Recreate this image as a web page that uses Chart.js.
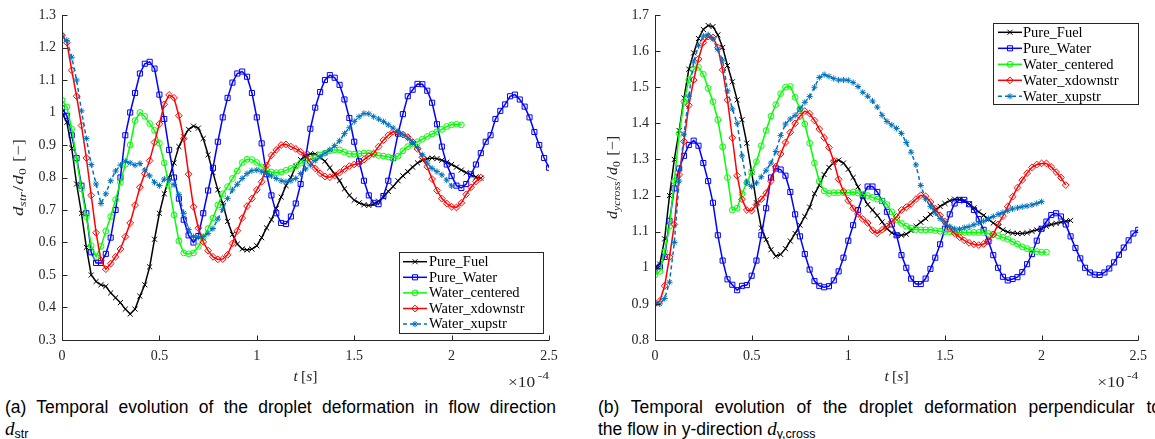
<!DOCTYPE html>
<html><head><meta charset="utf-8">
<script src="https://cdn.jsdelivr.net/npm/chart.js@4/dist/chart.umd.min.js"></script>
<style>
html,body{margin:0;padding:0;background:#fff;}
body{width:1155px;height:439px;overflow:hidden;position:relative;}
.cw{position:absolute;top:0;width:575px;height:390px;}
.cap{position:absolute;font-family:"Liberation Sans",Arial,sans-serif;font-size:17.5px;line-height:20px;color:#000;white-space:nowrap;}
.j{text-align:justify;text-align-last:justify;}
.mi{font-family:"Liberation Serif",serif;font-style:italic;font-size:19px;}
.cap sub{font-size:12.5px;vertical-align:-3px;line-height:0;}
</style></head><body>
<div class="cw" style="left:0"><canvas id="c1" width="575" height="390"></canvas></div>
<div class="cw" style="left:580px"><canvas id="c2" width="575" height="390"></canvas></div>
<div class="cap j" style="left:5px;top:397px;width:551px;">(a) Temporal evolution of the droplet deformation in flow direction</div>
<div class="cap" style="left:5px;top:419px;"><span class="mi">d</span><sub>str</sub></div>
<div class="cap j" style="left:598px;top:397px;width:563px;">(b) Temporal evolution of the droplet deformation perpendicular to</div>
<div class="cap" style="left:598px;top:419px;">the flow in y-direction <span class="mi">d</span><sub>y,cross</sub></div>
<script>
const time = [0,0.025,0.05,0.075,0.1,0.125,0.15,0.175,0.2,0.225,0.25,0.275,0.3,0.325,0.35,0.375,0.4,0.425,0.45,0.475,0.5,0.525,0.55,0.575,0.6,0.625,0.65,0.675,0.7,0.725,0.75,0.775,0.8,0.825,0.85,0.875,0.9,0.925,0.95,0.975,1,1.025,1.05,1.075,1.1,1.125,1.15,1.175,1.2,1.225,1.25,1.275,1.3,1.325,1.35,1.375,1.4,1.425,1.45,1.475,1.5,1.525,1.55,1.575,1.6,1.625,1.65,1.675,1.7,1.725,1.75,1.775,1.8,1.825,1.85,1.875,1.9,1.925,1.95,1.975,2,2.025,2.05,2.075,2.1,2.125,2.15,2.175,2.2,2.225,2.25,2.275,2.3,2.325,2.35,2.375,2.4,2.425,2.45,2.475,2.5];

const seriesNames = ['Pure_Fuel','Pure_Water','Water_centered','Water_xdownstr','Water_xupstr'];

// (a) d_str / d_0
const strFuel = [1.00,0.97,0.89,0.78,0.69,0.585,0.50,0.48,0.47,0.465,
0.445,0.43,0.415,0.395,0.38,0.395,0.435,0.47,0.525,0.61,
0.69,0.75,0.80,0.845,0.895,0.925,0.948,0.958,0.952,0.92,
0.87,0.815,0.762,0.72,0.665,0.625,0.595,0.58,0.577,0.58,
0.59,0.615,0.645,0.67,0.705,0.74,0.775,0.80,0.835,0.855,
0.866,0.873,0.872,0.862,0.85,0.83,0.81,0.79,0.765,0.745,
0.73,0.722,0.716,0.714,0.718,0.727,0.74,0.757,0.772,0.79,
0.805,0.818,0.832,0.845,0.853,0.858,0.86,0.858,0.853,0.847,
0.84,0.832,0.823,0.815,0.808,0.802,0.798];
const strWater = [1.013,0.99,0.93,0.86,0.775,0.69,0.57,0.537,0.537,0.565,
0.615,0.70,0.80,0.93,1.0,1.06,1.12,1.15,1.156,1.135,
1.055,0.98,0.885,0.80,0.735,0.67,0.622,0.60,0.62,0.69,
0.76,0.83,0.91,0.985,1.045,1.092,1.12,1.126,1.11,1.06,
0.985,0.905,0.81,0.745,0.69,0.66,0.657,0.68,0.72,0.78,
0.86,0.95,1.015,1.063,1.10,1.115,1.107,1.085,1.04,0.983,
0.91,0.85,0.79,0.745,0.722,0.718,0.743,0.79,0.86,0.935,
0.995,1.05,1.07,1.088,1.087,1.067,1.03,0.964,0.895,0.84,
0.805,0.775,0.768,0.78,0.81,0.84,0.875,0.91,0.93,0.98,
1.005,1.025,1.05,1.055,1.04,1.018,0.985,0.94,0.90,0.86,0.83];
const strCentered = [1.038,1.017,0.95,0.855,0.765,0.68,0.59,0.556,0.588,0.635,
0.68,0.732,0.785,0.84,0.90,0.975,1.0,0.988,0.966,0.945,
0.905,0.845,0.775,0.685,0.605,0.568,0.565,0.568,0.588,0.615,
0.643,0.675,0.715,0.75,0.772,0.797,0.82,0.846,0.856,0.855,
0.846,0.833,0.823,0.817,0.815,0.817,0.822,0.828,0.836,0.844,
0.85,0.856,0.861,0.869,0.875,0.882,0.885,0.885,0.878,0.873,
0.872,0.873,0.875,0.875,0.871,0.868,0.866,0.863,0.86,0.866,
0.882,0.895,0.903,0.91,0.918,0.926,0.934,0.941,0.948,0.957,
0.962,0.964,0.962];
const strDown = [1.238,1.215,1.13,1.05,0.96,0.86,0.745,0.63,0.545,0.518,
0.535,0.556,0.58,0.618,0.66,0.715,0.77,0.812,0.852,0.908,
0.965,1.025,1.054,1.045,0.99,0.92,0.81,0.71,0.644,0.602,
0.575,0.556,0.548,0.549,0.562,0.597,0.636,0.675,0.712,0.735,
0.762,0.787,0.837,0.868,0.885,0.90,0.902,0.895,0.888,0.879,
0.868,0.848,0.828,0.813,0.803,0.801,0.806,0.815,0.826,0.835,
0.84,0.843,0.855,0.866,0.874,0.895,0.915,0.93,0.941,0.938,
0.932,0.924,0.909,0.888,0.862,0.833,0.795,0.76,0.735,0.72,
0.71,0.708,0.722,0.748,0.77,0.788,0.80];
const strUp = [1.238,1.222,1.17,1.10,1.005,0.92,0.84,0.78,0.72,0.75,
0.79,0.82,0.838,0.85,0.845,0.838,0.843,0.823,0.805,0.785,
0.775,0.795,0.793,0.778,0.748,0.69,0.64,0.618,0.616,0.618,
0.628,0.643,0.672,0.702,0.735,0.762,0.779,0.797,0.812,0.821,
0.823,0.818,0.812,0.805,0.797,0.79,0.787,0.79,0.797,0.812,
0.826,0.838,0.852,0.864,0.875,0.885,0.898,0.913,0.935,0.953,
0.972,0.987,0.997,0.996,0.987,0.98,0.972,0.962,0.952,0.942,
0.932,0.921,0.908,0.893,0.87,0.844,0.828,0.818,0.808,0.792,
0.774];

// (b) d_ycross / d_0
const crossFuel = [1.0,1.01,1.08,1.2,1.3,1.38,1.47,1.55,1.595,1.635,
1.66,1.671,1.668,1.645,1.61,1.56,1.515,1.465,1.41,1.345,
1.265,1.18,1.11,1.078,1.05,1.032,1.037,1.053,1.074,1.095,
1.118,1.142,1.168,1.205,1.228,1.258,1.278,1.292,1.298,1.29,
1.273,1.25,1.224,1.198,1.175,1.16,1.145,1.127,1.108,1.097,
1.091,1.09,1.093,1.103,1.115,1.126,1.136,1.148,1.16,1.17,
1.178,1.186,1.19,1.189,1.185,1.177,1.166,1.155,1.145,1.134,
1.124,1.114,1.105,1.099,1.096,1.095,1.095,1.097,1.101,1.105,
1.109,1.115,1.12,1.123,1.126,1.129,1.131];
const crossWater = [0.998,1.003,1.03,1.13,1.22,1.275,1.31,1.34,1.352,1.338,
1.29,1.24,1.18,1.09,1.02,0.968,0.953,0.938,0.95,0.952,
0.978,1.02,1.09,1.165,1.25,1.275,1.272,1.255,1.21,1.148,
1.087,1.038,0.995,0.963,0.95,0.946,0.949,0.965,0.99,1.028,
1.075,1.118,1.16,1.2,1.225,1.225,1.21,1.185,1.155,1.12,
1.09,1.035,1.0,0.97,0.955,0.955,0.97,0.997,1.028,1.065,
1.108,1.148,1.178,1.188,1.188,1.176,1.16,1.135,1.105,1.073,
1.035,1.0,0.975,0.965,0.969,0.974,0.988,1.01,1.038,1.075,
1.108,1.128,1.146,1.151,1.142,1.12,1.087,1.055,1.026,1.0,
0.987,0.981,0.98,0.987,0.998,1.015,1.036,1.056,1.076,1.095,1.105];
const crossCentered = [0.98,0.99,1.045,1.115,1.24,1.372,1.46,1.52,1.55,1.555,
1.536,1.497,1.46,1.41,1.335,1.25,1.16,1.165,1.205,1.236,
1.265,1.294,1.338,1.38,1.42,1.452,1.482,1.5,1.502,1.472,
1.44,1.398,1.345,1.29,1.24,1.213,1.206,1.208,1.208,1.208,
1.208,1.21,1.207,1.204,1.2,1.195,1.19,1.185,1.175,1.155,
1.132,1.123,1.115,1.11,1.106,1.105,1.105,1.105,1.103,1.101,
1.1,1.1,1.099,1.098,1.098,1.098,1.098,1.098,1.097,1.095,
1.093,1.089,1.084,1.079,1.072,1.066,1.058,1.053,1.048,1.045,
1.043,1.043];
const crossDown = [0.9,0.908,0.95,1.03,1.12,1.257,1.35,1.45,1.52,1.578,
1.624,1.64,1.638,1.61,1.548,1.465,1.36,1.255,1.19,1.16,
1.158,1.175,1.19,1.207,1.24,1.28,1.315,1.347,1.375,1.4,
1.42,1.434,1.427,1.408,1.384,1.36,1.333,1.295,1.245,1.212,
1.186,1.165,1.149,1.135,1.124,1.104,1.095,1.105,1.115,1.128,
1.141,1.16,1.168,1.177,1.19,1.201,1.198,1.182,1.164,1.145,
1.128,1.11,1.095,1.085,1.076,1.069,1.065,1.063,1.066,1.076,
1.092,1.12,1.143,1.17,1.197,1.222,1.243,1.262,1.278,1.286,
1.289,1.289,1.279,1.265,1.25,1.229];
const crossUp = [0.9,0.9,0.915,0.96,1.07,1.24,1.37,1.475,1.57,1.615,
1.642,1.645,1.633,1.605,1.575,1.49,1.44,1.4,1.31,1.235,
1.225,1.235,1.252,1.27,1.29,1.322,1.366,1.398,1.412,1.422,
1.44,1.458,1.474,1.5,1.527,1.535,1.53,1.524,1.52,1.52,
1.519,1.513,1.502,1.486,1.475,1.462,1.445,1.422,1.405,1.395,
1.386,1.372,1.347,1.32,1.285,1.228,1.19,1.17,1.152,1.136,
1.124,1.114,1.108,1.107,1.111,1.114,1.119,1.124,1.129,1.136,
1.142,1.148,1.153,1.158,1.163,1.166,1.169,1.171,1.174,1.178,
1.183];

const xTickVals = [0,0.5,1,1.5,2,2.5];
const xTickLabels = ['0','0.5','1','1.5','2','2.5'];
const yTickValsStr = [0.3,0.4,0.5,0.6,0.7,0.8,0.9,1.0,1.1,1.2,1.3];
const yTickLabelsStr = ['0.3','0.4','0.5','0.6','0.7','0.8','0.9','1','1.1','1.2','1.3'];
const yTickValsCross = [0.8,0.9,1.0,1.1,1.2,1.3,1.4,1.5,1.6,1.7];
const yTickLabelsCross = ['0.8','0.9','1','1.1','1.2','1.3','1.4','1.5','1.6','1.7'];

const styles = [
  {color:'#000000', point:'crossRot', r:3.6, dash:[]},
  {color:'#0000ff', point:'rect', r:3.6, dash:[]},
  {color:'#00ff00', point:'circle', r:2.9, dash:[]},
  {color:'#ff0000', point:'rectRot', r:3.4, dash:[]},
  {color:'#0072bd', point:'star', r:3.1, dash:[4,3]}
];

const AX = '#262626';
const SERIF = '"Liberation Serif", "Times New Roman", serif';

function drawMarker(ctx, st, x, y) {
  const r = st.r, h = r * Math.SQRT1_2;
  ctx.beginPath();
  if (st.point === 'crossRot') {
    ctx.moveTo(x-h,y-h); ctx.lineTo(x+h,y+h); ctx.moveTo(x-h,y+h); ctx.lineTo(x+h,y-h);
  } else if (st.point === 'rect') {
    ctx.rect(x-h,y-h,2*h,2*h);
  } else if (st.point === 'circle') {
    ctx.arc(x,y,r,0,Math.PI*2);
  } else if (st.point === 'rectRot') {
    ctx.moveTo(x,y-r); ctx.lineTo(x+r,y); ctx.lineTo(x,y+r); ctx.lineTo(x-r,y); ctx.closePath();
  } else if (st.point === 'star') {
    ctx.moveTo(x,y-r); ctx.lineTo(x,y+r); ctx.moveTo(x-r,y); ctx.lineTo(x+r,y);
    ctx.moveTo(x-h,y-h); ctx.lineTo(x+h,y+h); ctx.moveTo(x-h,y+h); ctx.lineTo(x+h,y-h);
  }
  ctx.stroke();
}

function measureParts(ctx, parts) {
  let w = 0;
  parts.forEach(p => { ctx.font = p.f; p.w = ctx.measureText(p.t).width; w += p.w + (p.gap || 0); });
  return w;
}
function drawParts(ctx, parts, startX) {
  let cx = startX;
  parts.forEach(p => { ctx.font = p.f; ctx.fillText(p.t, cx, p.dy || 0); cx += p.w + (p.gap || 0); });
}

const decor = {
  id: 'decor',
  afterDraw(chart, args, o) {
    const ctx = chart.ctx;
    const {left, right, top, bottom} = chart.chartArea;
    const xs = chart.scales.x, ys = chart.scales.y;
    ctx.save();
    ctx.strokeStyle = AX; ctx.lineWidth = 1; ctx.setLineDash([]);
    ctx.beginPath();
    const L = Math.round(left) + 0.5, B = Math.round(bottom) + 0.5;
    ctx.moveTo(L, top); ctx.lineTo(L, B); ctx.lineTo(right, B);
    xTickVals.forEach(v => { const px = Math.round(xs.getPixelForValue(v)) + 0.5; ctx.moveTo(px, B); ctx.lineTo(px, B - 5); });
    ys.ticks.forEach(t => { const py = Math.round(ys.getPixelForValue(t.value)) + 0.5; ctx.moveTo(L, py); ctx.lineTo(L + 5, py); });
    ctx.stroke();

    ctx.fillStyle = AX; ctx.textBaseline = 'alphabetic';
    const xt = [
      {t:'t', f:'italic 15px ' + SERIF, gap:3},
      {t:'[', f:'15px ' + SERIF},
      {t:'s', f:'italic 15px ' + SERIF},
      {t:']', f:'15px ' + SERIF}
    ];
    const wx = measureParts(ctx, xt);
    ctx.save(); ctx.translate((left + right) / 2, o.xTitleY); ctx.scale(1.05, 1);
    drawParts(ctx, xt, -wx / 2); ctx.restore();
    const mp = [
      {t:'\u00d710', f:'14px ' + SERIF, gap:2},
      {t:'-4', f:'11px ' + SERIF, dy:-8}
    ];
    const wm = measureParts(ctx, mp);
    ctx.save(); ctx.translate(right, o.multY); ctx.scale(o.multLen / wm, 1);
    drawParts(ctx, mp, -wm); ctx.restore();
    const yt = o.yTitle;
    const wy = measureParts(ctx, yt);
    ctx.save(); ctx.translate(o.yTitleX, (top + bottom) / 2); ctx.rotate(-Math.PI / 2);
    ctx.scale(o.yTitleLen / wy, 1);
    drawParts(ctx, yt, -wy / 2); ctx.restore();

    const lg = o.legend;
    ctx.fillStyle = '#ffffff'; ctx.strokeStyle = AX; ctx.lineWidth = 1;
    ctx.fillRect(lg.x, lg.y, lg.w, lg.h);
    ctx.strokeRect(lg.x + 0.5, lg.y + 0.5, lg.w, lg.h);
    ctx.font = '14.5px ' + SERIF; ctx.textBaseline = 'middle';
    seriesNames.forEach((name, k) => {
      const st = styles[k];
      const y = lg.row0 + k * lg.dy;
      ctx.strokeStyle = st.color; ctx.lineWidth = 1.5; ctx.setLineDash(st.dash);
      ctx.beginPath(); ctx.moveTo(lg.lx0, y); ctx.lineTo(lg.lx1, y); ctx.stroke();
      ctx.setLineDash([]); ctx.lineWidth = 1;
      drawMarker(ctx, st, (lg.lx0 + lg.lx1) / 2, y);
      ctx.fillStyle = '#000000';
      ctx.fillText(name, lg.tx, y + 0.5);
    });
    ctx.restore();
  }
};

function build(id, series, yMin, yMax, yVals, yLabels, opt) {
  const datasets = series.map((vals, k) => ({
    label: seriesNames[k],
    data: vals.map((v, i) => ({x: time[i], y: v})),
    borderColor: styles[k].color,
    backgroundColor: styles[k].color,
    borderWidth: 1.5,
    borderDash: styles[k].dash,
    pointStyle: styles[k].point,
    pointRadius: styles[k].r,
    pointHoverRadius: styles[k].r,
    pointBorderWidth: 1,
    pointBorderColor: styles[k].color,
    pointBackgroundColor: 'rgba(255,255,255,0)',
    tension: 0,
    fill: false,
    order: 10 - k
  }));
  return new Chart(document.getElementById(id), {
    type: 'line',
    data: {datasets},
    options: {
      responsive: false, animation: false, devicePixelRatio: 1, events: [],
      layout: {padding: {left: 0, right: opt.padRight, top: 15, bottom: 0}},
      plugins: {legend: {display: false}, tooltip: {enabled: false}, decor: opt.decor},
      scales: {
        x: {
          type: 'linear', min: 0, max: 2.5,
          afterBuildTicks(s) { s.ticks = xTickVals.map(v => ({value: v})); },
          afterFit(s) { s.height = 50; },
          grid: {display: false, drawTicks: false}, border: {display: false},
          ticks: {autoSkip: false, maxRotation: 0, padding: 8, color: AX,
            font: {family: SERIF, size: 14}, callback: (v, i) => xTickLabels[i]}
        },
        y: {
          type: 'linear', min: yMin, max: yMax,
          afterBuildTicks(s) { s.ticks = yVals.map(v => ({value: v})); },
          afterFit(s) { s.width = opt.yWidth; },
          grid: {display: false, drawTicks: false}, border: {display: false},
          ticks: {autoSkip: false, padding: 6, color: AX,
            font: {family: SERIF, size: 14}, callback: (v, i) => yLabels[i]}
        }
      }
    },
    plugins: [decor]
  });
}

build('c1', [strFuel, strWater, strCentered, strDown, strUp], 0.3, 1.3, yTickValsStr, yTickLabelsStr, {
  padRight: 26, yWidth: 62,
  decor: {
    xTitleY: 381, multY: 387, multLen: 41, yTitleX: 23, yTitleLen: 77,
    yTitle: [
      {t:'d', f:'italic 15px ' + SERIF},
      {t:'str', f:'italic 11px ' + SERIF, dy:3, gap:1},
      {t:'/', f:'15px ' + SERIF, gap:1},
      {t:'d', f:'italic 15px ' + SERIF},
      {t:'0', f:'11px ' + SERIF, dy:3, gap:5},
      {t:'[\u2212]', f:'15px ' + SERIF}
    ],
    legend: {x:399, y:252, w:144, h:81, row0:261.7, dy:15.6, lx0:403, lx1:427, tx:429}
  }
});
build('c2', [crossFuel, crossWater, crossCentered, crossDown, crossUp], 0.8, 1.7, yTickValsCross, yTickLabelsCross, {
  padRight: 15, yWidth: 75,
  decor: {
    xTitleY: 381, multY: 387, multLen: 41, yTitleX: 37, yTitleLen: 83,
    yTitle: [
      {t:'d', f:'italic 15px ' + SERIF},
      {t:'ycross', f:'italic 11px ' + SERIF, dy:3, gap:1},
      {t:'/', f:'15px ' + SERIF, gap:1},
      {t:'d', f:'italic 15px ' + SERIF},
      {t:'0', f:'11px ' + SERIF, dy:3, gap:5},
      {t:'[\u2212]', f:'15px ' + SERIF}
    ],
    legend: {x:413, y:23, w:145, h:81, row0:32.3, dy:16, lx0:418, lx1:442, tx:443}
  }
});
</script>
</body></html>
